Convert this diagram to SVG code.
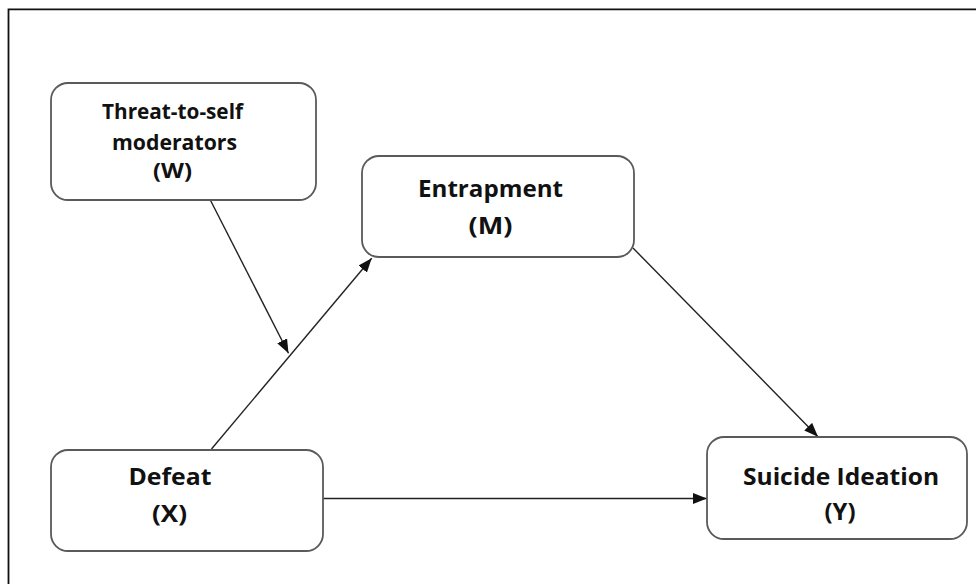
<svg xmlns="http://www.w3.org/2000/svg" width="976" height="584" viewBox="0 0 976 584">
<style>
.box{fill:#fff;stroke:#5a5a5a;stroke-width:1.8}
.t{font-family:"Open Sans","Liberation Sans",sans-serif;font-weight:bold;fill:#111;text-anchor:middle}
.big{font-size:24px}
.sm{font-size:21px}
.c{stroke:#222;stroke-width:1.4;fill:none;marker-end:url(#ah)}
</style>
<defs>
<marker id="ah" markerWidth="15" markerHeight="11" refX="14" refY="5.5" orient="auto" markerUnits="userSpaceOnUse">
<path d="M0,0 L14,5.5 L0,11 Z" fill="#111"/>
</marker>
</defs>
<rect width="976" height="584" fill="#fff"/>
<path d="M8.5,584 V9.3 H976" fill="none" stroke="#111" stroke-width="1.8"/>
<g id="connectors">
<line class="c" x1="210.7" y1="200.7" x2="288.5" y2="353.3"/>
<line class="c" x1="211.5" y1="449" x2="371.7" y2="258.3"/>
<line class="c" x1="633" y1="248" x2="818" y2="436.7"/>
<line class="c" x1="323" y1="498.5" x2="707" y2="498.5"/>
</g>
<g id="node-W">
<rect class="box" x="51" y="83" width="265" height="117" rx="17"/>
<text class="t sm" x="172.5" y="119" textLength="141" lengthAdjust="spacingAndGlyphs">Threat-to-self</text>
<text class="t sm" x="174.5" y="150" textLength="125" lengthAdjust="spacingAndGlyphs">moderators</text>
<text class="t sm" x="172.5" y="178" textLength="39" lengthAdjust="spacingAndGlyphs">(W)</text>
</g>
<g id="node-M">
<rect class="box" x="362" y="156" width="272" height="101" rx="17"/>
<text class="t big" x="490.5" y="197" textLength="145" lengthAdjust="spacingAndGlyphs">Entrapment</text>
<text class="t big" x="490.5" y="234" textLength="44" lengthAdjust="spacingAndGlyphs">(M)</text>
</g>
<g id="node-X">
<rect class="box" x="51" y="450" width="272" height="101" rx="17"/>
<text class="t big" x="170" y="485" textLength="83" lengthAdjust="spacingAndGlyphs">Defeat</text>
<text class="t big" x="169.5" y="522" textLength="35" lengthAdjust="spacingAndGlyphs">(X)</text>
</g>
<g id="node-Y">
<rect class="box" x="707" y="437" width="260" height="102" rx="17"/>
<text class="t big" x="841" y="485" textLength="196" lengthAdjust="spacingAndGlyphs">Suicide Ideation</text>
<text class="t big" x="840" y="520" textLength="31" lengthAdjust="spacingAndGlyphs">(Y)</text>
</g>
</svg>
